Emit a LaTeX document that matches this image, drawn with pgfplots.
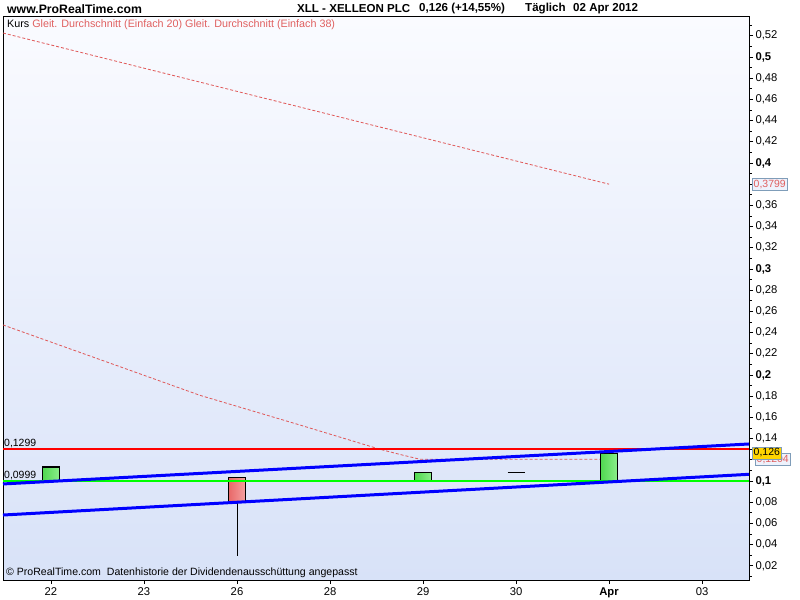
\documentclass[border=0pt]{standalone}
\usepackage{pgfplots}
\pgfplotsset{compat=1.18}
\usepackage{fontspec}
\setmainfont{Liberation Sans}
\definecolor{bgtop}{HTML}{FAFBFF}
\definecolor{bgbot}{HTML}{D8E2F8}
\definecolor{maRed}{HTML}{E05858}
\definecolor{txtRed}{HTML}{E06060}
\definecolor{lineRed}{RGB}{255,0,0}
\definecolor{lineGreen}{RGB}{0,255,0}
\definecolor{lineBlue}{RGB}{0,0,255}
\definecolor{gDark}{HTML}{50D850}
\definecolor{gLight}{HTML}{8CEE8C}
\definecolor{rDark}{HTML}{E86868}
\definecolor{rLight}{HTML}{F4A0A0}
\definecolor{boxBorder}{HTML}{7F9DB9}
\definecolor{boxFill}{HTML}{EEF2FC}
\definecolor{yBox}{HTML}{FFD500}
\begin{document}
\begin{tikzpicture}
\useasboundingbox[fill=white] (0,0) rectangle (800bp,600bp);
\node[anchor=west,inner sep=0pt,font=\bfseries\fontsize{12.3}{14}\selectfont] at (7bp,591bp) {www.ProRealTime.com};
\node[anchor=west,inner sep=0pt,font=\bfseries\fontsize{11.6}{14}\selectfont] at (297bp,591bp) {XLL - XELLEON PLC};
\node[anchor=west,inner sep=0pt,font=\bfseries\fontsize{11.6}{14}\selectfont] at (419bp,591bp) {0,126 (+14,55\%)};
\node[anchor=west,inner sep=0pt,font=\bfseries\fontsize{11.6}{14}\selectfont] at (525bp,591bp) {Täglich};
\node[anchor=west,inner sep=0pt,font=\bfseries\fontsize{11.6}{14}\selectfont] at (573bp,591bp) {02 Apr 2012};
\begin{axis}[
  at={(3bp,20bp)}, anchor=south west,
  width=746bp, height=563bp, scale only axis,
  xmin=-0.516, xmax=7.505, ymin=0.0066, ymax=0.5377,
  axis background/.style={top color=bgtop, bottom color=bgbot},
  axis line style={black, line width=1bp},
  xtick={0,1,2,3,4,5,6,7},
  xticklabels={22,23,26,28,29,30,\textbf{Apr},03},
  ytick={0.02,0.04,0.06,0.08,0.1,0.12,0.14,0.16,0.18,0.2,0.22,0.24,0.26,0.28,0.3,0.32,0.34,0.36,0.38,0.4,0.42,0.44,0.46,0.48,0.5,0.52},
  yticklabels={{0,02},{0,04},{0,06},{0,08},\textbf{0,1},{},{0,14},{0,16},{0,18},\textbf{0,2},{0,22},{0,24},{0,26},{0,28},\textbf{0,3},{0,32},{0,34},{0,36},{},\textbf{0,4},{0,42},{0,44},{0,46},{0,48},\textbf{0,5},{0,52}},
  minor ytick={0.01,0.03,0.05,0.07,0.09,0.11,0.13,0.15,0.17,0.19,0.21,0.23,0.25,0.27,0.29,0.31,0.33,0.35,0.37,0.39,0.41,0.43,0.45,0.47,0.49,0.51,0.53},
  xtick pos=bottom, ytick pos=right, yticklabel pos=right,
  tick align=outside,
  major tick length=4bp, minor tick length=2.5bp,
  tick style={black, line width=0.8bp},
  ticklabel style={font=\fontsize{11.3}{13}\selectfont},
  yticklabel style={xshift=-1bp},
  clip=false,
]
% moving averages
\addplot[color=maRed, densely dashed, line width=0.8bp] coordinates {(-0.516,0.5226) (6.0,0.3800)};
\addplot[color=maRed, densely dashed, line width=0.8bp] coordinates {(-0.516,0.2472) (0.570,0.2132) (1.602,0.1808) (2.677,0.1528) (3.538,0.1299) (3.753,0.1250) (3.968,0.1205) (6.0,0.1205)};
% candles
\addplot[color=black, line width=1bp] coordinates {(2,0.0805) (2,0.0295)};
\addplot[draw=black, line width=1.3bp, left color=gDark, right color=gLight] coordinates {(-0.0914,0.0999) (0.0914,0.0999) (0.0914,0.1132) (-0.0914,0.1132) (-0.0914,0.0999)};
\addplot[draw=black, line width=1.3bp, left color=rDark, right color=rLight] coordinates {(1.9086,0.0805) (2.0914,0.0805) (2.0914,0.1035) (1.9086,0.1035) (1.9086,0.0805)};
\addplot[draw=black, line width=1.3bp, left color=gDark, right color=gLight] coordinates {(3.9086,0.0999) (4.0914,0.0999) (4.0914,0.108) (3.9086,0.108) (3.9086,0.0999)};
\addplot[color=black, line width=1bp] coordinates {(4.9086,0.108) (5.0914,0.108)};
\addplot[draw=black, line width=1.3bp, left color=gDark, right color=gLight] coordinates {(5.9086,0.0999) (6.0914,0.0999) (6.0914,0.126) (5.9086,0.126) (5.9086,0.0999)};
% horizontal levels
\addplot[draw=lineGreen, line width=1.6bp] coordinates {(-0.516,0.0999) (7.505,0.0999)};
\addplot[draw=lineRed, line width=2bp] table[row sep=\\] {x y\\ -0.516 0.1299\\ 7.505 0.1299\\};
% channel
\addplot[draw=lineBlue, line width=3bp] coordinates {(-0.516,0.0972) (7.505,0.1349)};
\addplot[draw=lineBlue, line width=3bp] coordinates {(-0.516,0.0679) (7.505,0.1063)};
% labels
\node[anchor=south west, inner sep=1bp, font=\fontsize{10.5}{12}\selectfont] at (axis cs:-0.516,0.1299) {0,1299};
\node[anchor=south west, inner sep=1bp, font=\fontsize{10.5}{12}\selectfont] at (axis cs:-0.516,0.0999) {0,0999};
\node[anchor=north west, inner sep=0pt, font=\fontsize{10.8}{12}\selectfont] at (axis cs:-0.516,0.5377) [xshift=4bp,yshift=-3bp] {Kurs \textcolor{txtRed}{Gleit. Durchschnitt (Einfach 20) Gleit. Durchschnitt (Einfach 38)}};
\node[anchor=south west, inner sep=0pt, font=\fontsize{10.6}{12}\selectfont] at (axis cs:-0.516,0.0066) [xshift=3bp,yshift=2bp] {© ProRealTime.com\ \ Datenhistorie der Dividendenausschüttung angepasst};
% value boxes
\node[anchor=west, draw=boxBorder, fill=boxFill, text=txtRed, inner sep=1.5bp, font=\fontsize{10.5}{12}\selectfont] at (axis cs:7.505,0.3799) [xshift=3bp] {0,3799};
\node[anchor=west, draw=boxBorder, fill=boxFill, text=txtRed, inner sep=1.5bp, font=\fontsize{10.5}{12}\selectfont] at (axis cs:7.505,0.1204) [xshift=6bp] {0,1204};
\node[anchor=west, draw=boxBorder, fill=yBox, text=black, inner sep=1.5bp, font=\fontsize{10.5}{12}\selectfont] at (axis cs:7.505,0.1265) [xshift=3bp] {0,126};
\end{axis}
\end{tikzpicture}
\end{document}
